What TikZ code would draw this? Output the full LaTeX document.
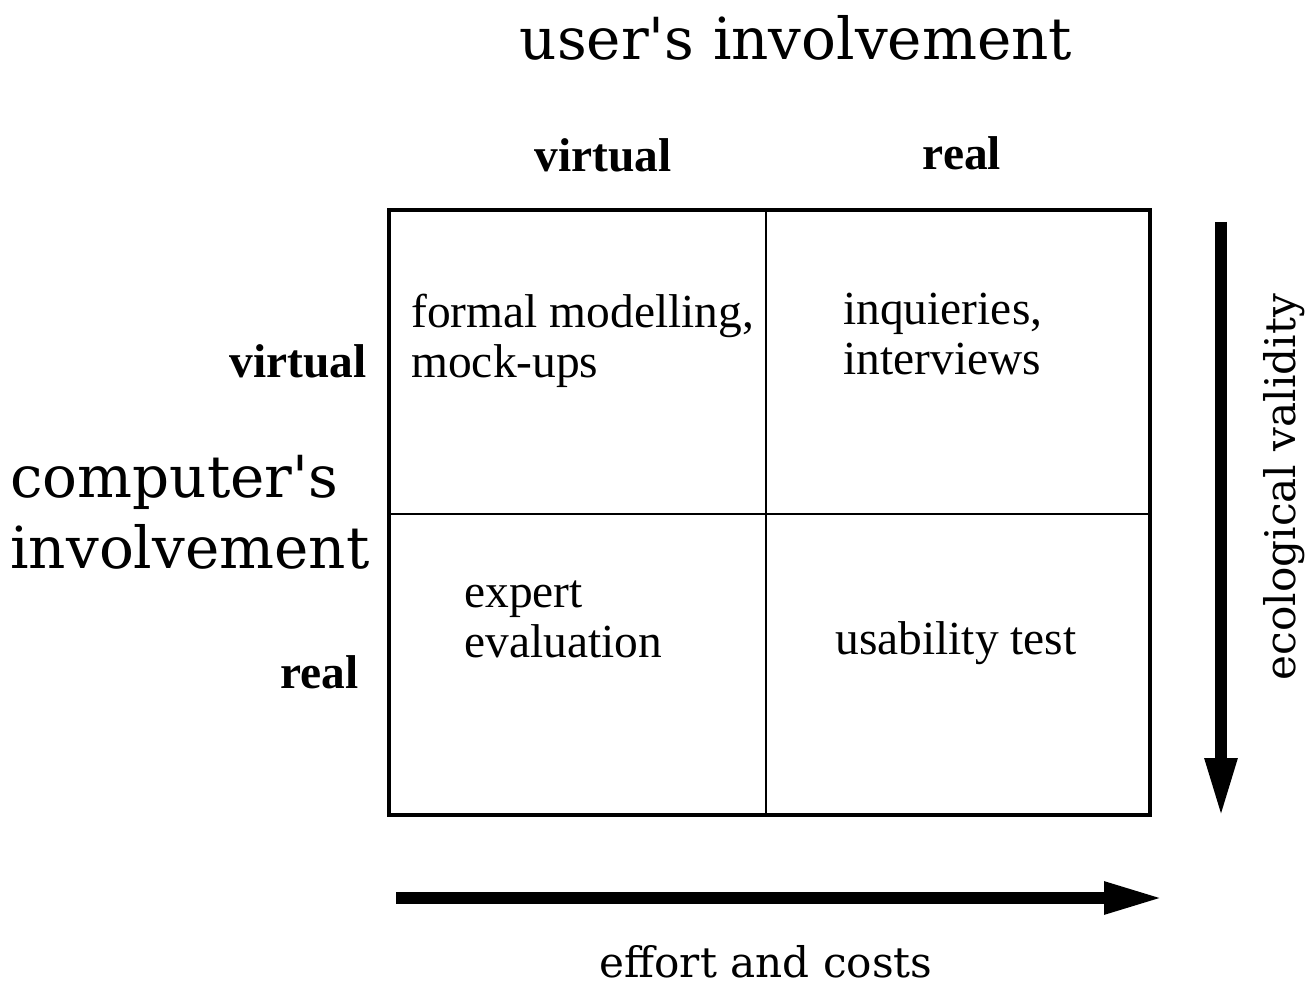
\documentclass[tikz,border=0pt]{standalone}
\usepackage{fontspec}
\newfontfamily\timesfont{Liberation Serif}
\newfontfamily\bookfont{DejaVu Serif}
\usetikzlibrary{arrows.meta}
\tikzset{
  celltext/.style={font=\timesfont\fontsize{27}{28.5}\selectfont, align=left, inner sep=0pt},
  headlabel/.style={font=\timesfont\bfseries\fontsize{27}{28}\selectfont, inner sep=0pt},
  biglabel/.style={font=\bookfont\fontsize{33}{40}\selectfont, align=left, inner sep=0pt},
  axislabel/.style={font=\bookfont\fontsize{24}{26}\selectfont, inner sep=0pt},
  bigarrow/.style={line width=6.5pt, -{Triangle[length=1.18cm,width=0.6cm]}}
}
\begin{document}
\begin{tikzpicture}[x=0.02cm, y=-0.02cm]
			\useasboundingbox (0, 0) rectangle (1311, 986);
			%%%%% MATRIX %%%%%
			\coordinate (nw) at (389, 210);
			\coordinate (se) at (1150, 815);
			\draw[line width=1.1pt] (766, 210) -- (766, 815);
			\draw[line width=1.1pt] (389, 514) -- (1150, 514);
			\draw[line width=2pt] (nw) rectangle (se);
			
			%%%%% CELLS %%%%%
			\node[celltext, anchor=west] (vv) at (411, 341) {formal modelling,\\mock-ups};
			\node[celltext, anchor=west] (vr) at (843, 334) {inquieries,\\interviews};
			\node[celltext, anchor=west] (rv) at (464, 619) {expert\\evaluation};
			\node[celltext, anchor=west] (rr) at (835, 643) {usability test};
			
			%%%%% HEADINGS %%%%%
			\node[headlabel] (colv) at (603, 155) {virtual};
			\node[headlabel] (colr) at (962, 153) {real};
			\node[headlabel, anchor=east] (rowv) at (367, 361) {virtual};
			\node[headlabel, anchor=east] (rowr) at (359, 672) {real};
			
			\node[biglabel, anchor=base] (user) at (796, 60) {user\textquotesingle s involvement};
			\node[biglabel, anchor=base west] (comp) at (10, 568) {computer\textquotesingle s\\involvement};
			
			%%%%% ARROWS %%%%%
			\coordinate (ecotop) at (1221, 222);
			\coordinate (ecobot) at (1221, 817);
			\draw[bigarrow] (ecotop) -- (ecobot);
			\node[axislabel, rotate=90, anchor=base] (eco) at (1295, 487) {ecological validity};
			
			\coordinate (costl) at (396, 898);
			\coordinate (costr) at (1163, 898);
			\draw[bigarrow] (costl) -- (costr);
			\node[axislabel, anchor=base] (cost) at (766, 977) {effort and costs};
\end{tikzpicture}
\end{document}
